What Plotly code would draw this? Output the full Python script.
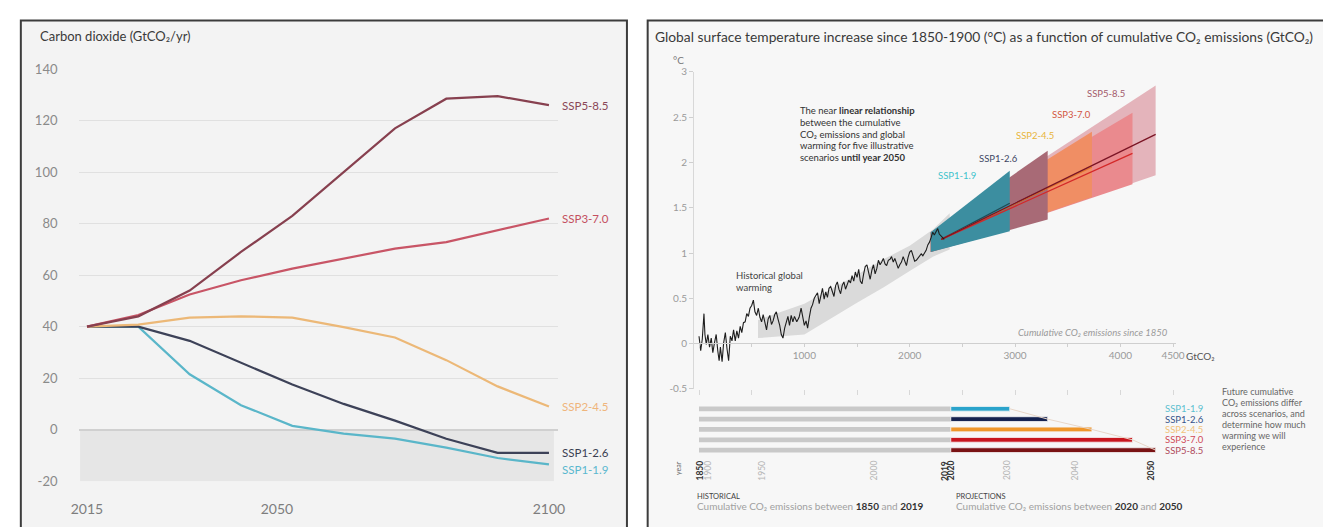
import plotly.graph_objects as go

W, H = 1323, 527

# ---------------- left panel: CO2 emission pathways ----------------
years = [2015, 2020, 2030, 2040, 2050, 2060, 2070, 2080, 2090, 2100]
scenarios = ["SSP1-1.9", "SSP1-2.6", "SSP2-4.5", "SSP3-7.0", "SSP5-8.5"]
co2_ssp119 = [40, 40, 21.5, 9.5, 1.5, -1.5, -3.5, -7, -11, -13.5]
co2_ssp126 = [40, 40, 34.5, 26, 17.5, 10, 3.5, -3.5, -9, -9]
co2_ssp245 = [40, 40.8, 43.5, 44, 43.5, 39.8, 35.8, 27, 16.8, 9]
co2_ssp370 = [40, 44.5, 52.5, 58, 62.5, 66.5, 70.3, 72.8, 77.5, 82]
co2_ssp585 = [40, 44, 54, 69, 83, 100, 117, 128.5, 129.5, 126]
co2_ticks = [-20, 0, 20, 40, 60, 80, 100, 120, 140]
year_ticks = ["2015", "2050", "2100"]

# ---------------- right panel: warming vs cumulative CO2 ----------------
hist_cum = [0, 16, 31, 47, 56, 69, 84, 100, 116, 131, 147, 163, 178, 191, 203, 219, 234, 250, 266, 281,
            297, 313, 328, 344, 359, 375, 391, 406, 422, 438, 453, 469, 484, 500, 516, 531, 547, 563, 578, 594,
            609, 625, 641, 656, 672, 688, 703, 719, 734, 750, 766, 781, 797, 813, 828, 844, 859, 875, 891, 906,
            928, 950, 969, 984, 1000, 1016, 1031, 1047, 1063, 1078, 1094, 1109, 1125, 1141, 1156, 1172, 1188,
            1203, 1219, 1234, 1250, 1266, 1281, 1297, 1313, 1328, 1344, 1359, 1375, 1391, 1406, 1422, 1438,
            1453, 1469, 1484, 1500, 1516, 1531, 1547, 1563, 1578, 1594, 1609, 1625, 1641, 1656, 1672, 1688,
            1703, 1719, 1734, 1750, 1766, 1781, 1797, 1813, 1828, 1844, 1859, 1875, 1891, 1906, 1922, 1938,
            1953, 1969, 1984, 2000, 2016, 2031, 2047, 2063, 2078, 2094, 2109, 2125, 2141, 2156, 2172, 2188,
            2203, 2219, 2234, 2250, 2266, 2281, 2297, 2313, 2328]
hist_temp = [0.08, -0.08, 0.05, 0.33, 0.10, -0.01, 0.10, -0.04, 0.06, -0.10, 0.01, 0.10, -0.08, -0.19, -0.04,
             -0.20, 0.01, 0.12, -0.06, -0.19, 0.08, 0.03, 0.15, 0.03, 0.14, 0.06, 0.19, 0.12, 0.23, 0.24,
             0.33, 0.30, 0.39, 0.42, 0.48, 0.35, 0.31, 0.39, 0.29, 0.24, 0.32, 0.21, 0.15, 0.27, 0.31, 0.21,
             0.25, 0.32, 0.35, 0.27, 0.20, 0.10, 0.06, 0.17, 0.24, 0.30, 0.20, 0.31, 0.24, 0.30, 0.24, 0.29,
             0.39, 0.28, 0.20, 0.25, 0.17, 0.29, 0.39, 0.43, 0.50, 0.53, 0.56, 0.44, 0.53, 0.61, 0.49, 0.57,
             0.51, 0.61, 0.63, 0.56, 0.52, 0.64, 0.68, 0.60, 0.55, 0.64, 0.68, 0.60, 0.64, 0.70, 0.67, 0.75,
             0.69, 0.79, 0.73, 0.82, 0.69, 0.66, 0.77, 0.85, 0.87, 0.77, 0.71, 0.81, 0.87, 0.77, 0.83, 0.92,
             0.87, 0.90, 0.94, 0.88, 0.86, 0.92, 0.93, 0.96, 0.90, 0.94, 0.89, 0.83, 0.87, 0.90, 0.96, 0.92,
             0.86, 0.95, 1.01, 1.03, 0.96, 0.91, 0.92, 0.94, 0.96, 0.99, 0.97, 1.01, 1.03, 1.09, 1.12, 1.17,
             1.23, 1.20, 1.24, 1.27, 1.21, 1.19, 1.17, 1.15]
band_cum = [560, 1000, 1500, 1750, 2000, 2220, 2380]
band_low = [0.06, 0.10, 0.45, 0.62, 0.80, 0.96, 1.04]
band_high = [0.26, 0.44, 0.76, 0.93, 1.08, 1.26, 1.44]

hist_total = 2390                               # GtCO2, 1850-2019
proj_2020_2050 = [560, 920, 1340, 1725, 1945]   # GtCO2, 2020-2050
cone_start_cum = 2200
cone_start_low, cone_start_high = 1.01, 1.23
cone_low = [1.24, 1.37, 1.62, 1.76, 1.86]
cone_high = [1.91, 2.13, 2.34, 2.55, 2.85]
cone_mid = [1.55, 1.72, 1.95, 2.10, 2.31]
mid_start_cum, mid_start_temp = 2300, 1.15

temp_ticks = [-0.5, 0, 0.5, 1, 1.5, 2, 2.5, 3]
temp_ticklabels = ["-0.5", "0", "0.5", "1", "1.5", "2", "2.5", "3"]
cum_ticks = [1000, 2000, 3000, 4000, 4500]
cum_ticklabels = ["1000", "2000", "3000", "4000", "4500"]
bar_years = ["1850", "1900", "1950", "2000", "2019", "2020", "2030", "2040", "2050"]
bar_year_cum = [0, 85, 590, 1660, 2330, 2390, 2920, 3560, 4290]
bar_year_bold = [True, False, False, False, True, True, False, False, True]

# ---------------- styling ----------------
FONT = "Lato, Noto Sans, sans-serif"
line_col = {"SSP1-1.9": "#5ab6c9", "SSP1-2.6": "#3d4258", "SSP2-4.5": "#ecb877",
            "SSP3-7.0": "#c85566", "SSP5-8.5": "#87404f"}
label_col = {"SSP1-1.9": "#5ab8cf", "SSP1-2.6": "#3b3f52", "SSP2-4.5": "#efb57c",
             "SSP3-7.0": "#c4505f", "SSP5-8.5": "#8a4656"}
cone_fill = {"SSP1-1.9": "#3c8ea0", "SSP1-2.6": "#a86a76", "SSP2-4.5": "#f08e64",
             "SSP3-7.0": "#ea8a8e", "SSP5-8.5": "#e4b4bb"}
cone_line = {"SSP1-1.9": "#1f4a55", "SSP1-2.6": "#2a2f4d", "SSP2-4.5": "#e2742a",
             "SSP3-7.0": "#d42828", "SSP5-8.5": "#7a1424"}
cone_label_col = {"SSP1-1.9": "#3ec3cc", "SSP1-2.6": "#3d4663", "SSP2-4.5": "#e8b53a",
                  "SSP3-7.0": "#d2553e", "SSP5-8.5": "#a35a6a"}
bar_col = {"SSP1-1.9": "#2aa3cb", "SSP1-2.6": "#14214f", "SSP2-4.5": "#ef962a",
           "SSP3-7.0": "#c8161e", "SSP5-8.5": "#7a1314"}
bar_label_col = {"SSP1-1.9": "#5bc0d0", "SSP1-2.6": "#35538a", "SSP2-4.5": "#f2c27a",
                 "SSP3-7.0": "#d04a58", "SSP5-8.5": "#b04a5c"}


def fx(p):
    return p / W


def fy(p):
    return 1 - p / H


fig = go.Figure()

# left panel lines
co2_series = [co2_ssp119, co2_ssp126, co2_ssp245, co2_ssp370, co2_ssp585]
x_pos = list(range(len(years)))
for name, vals in zip(scenarios, co2_series):
    fig.add_trace(go.Scatter(x=x_pos, y=vals, mode="lines", name=name,
                             line=dict(color=line_col[name], width=2.2),
                             xaxis="x", yaxis="y", hoverinfo="skip"))

# right panel: historical uncertainty band
fig.add_trace(go.Scatter(x=band_cum + band_cum[::-1], y=band_low + band_high[::-1],
                         fill="toself", fillcolor="#dadada", line=dict(width=0),
                         mode="lines", xaxis="x2", yaxis="y2", hoverinfo="skip"))

# projection cones, widest drawn first
cone_end = [hist_total + p for p in proj_2020_2050]
for i in reversed(range(len(scenarios))):
    name = scenarios[i]
    fig.add_trace(go.Scatter(
        x=[cone_start_cum, cone_end[i], cone_end[i], cone_start_cum, cone_start_cum],
        y=[cone_start_low, cone_low[i], cone_high[i], cone_start_high, cone_start_low],
        fill="toself", fillcolor=cone_fill[name], line=dict(width=0), mode="lines",
        xaxis="x2", yaxis="y2", hoverinfo="skip"))

# central estimates
for i, name in enumerate(scenarios):
    fig.add_trace(go.Scatter(x=[mid_start_cum, cone_end[i]], y=[mid_start_temp, cone_mid[i]],
                             mode="lines", line=dict(color=cone_line[name], width=1.3),
                             xaxis="x2", yaxis="y2", hoverinfo="skip"))

# observed warming
fig.add_trace(go.Scatter(x=hist_cum, y=hist_temp, mode="lines",
                         line=dict(color="#1e1e1e", width=1.1),
                         xaxis="x2", yaxis="y2", hoverinfo="skip"))

# carrier trace for the zero axis with labels
fig.add_trace(go.Scatter(x=[0], y=[0], mode="markers", marker=dict(opacity=0),
                         xaxis="x3", yaxis="y2", hoverinfo="skip"))

# cumulative emission bars
rows = list(range(len(scenarios)))
fig.add_trace(go.Bar(y=rows, x=[hist_total] * len(rows), base=[0] * len(rows), orientation="h",
                     width=0.46, marker=dict(color="#c9c9c9", line=dict(width=0)),
                     xaxis="x4", yaxis="y4", hoverinfo="skip"))
fig.add_trace(go.Bar(y=rows, x=proj_2020_2050, base=[hist_total] * len(rows), orientation="h",
                     width=0.46, marker=dict(color=[bar_col[s] for s in scenarios],
                                             line=dict(color="#f6f6f6", width=0.8)),
                     xaxis="x4", yaxis="y4", hoverinfo="skip"))
fig.add_trace(go.Scatter(x=cone_end, y=rows, mode="lines", line=dict(color="#e8d6c8", width=1),
                         xaxis="x4", yaxis="y4", hoverinfo="skip"))

# ---------------- shapes ----------------
shapes = [
    dict(type="rect", xref="paper", yref="paper", x0=fx(13), x1=fx(627), y0=fy(13), y1=fy(540),
         fillcolor="#f3f3f3", line=dict(color="#3c3c3c", width=2), layer="below"),
    dict(type="rect", xref="paper", yref="paper", x0=fx(648), x1=fx(1340), y0=fy(13), y1=fy(540),
         fillcolor="#f7f7f7", line=dict(color="#3c3c3c", width=2), layer="below"),
    dict(type="rect", xref="paper", yref="y", x0=fx(73), x1=fx(553), y0=-20, y1=0,
         fillcolor="#e6e6e6", line=dict(width=0), layer="below"),
]

# ---------------- annotations ----------------
ann = []
ann.append(dict(text="Carbon dioxide (GtCO₂/yr)", xref="paper", yref="paper",
                x=fx(30), y=fy(29), xanchor="left", yanchor="middle", showarrow=False,
                font=dict(size=13, color="#3a3a3a")))
label_shift = {"SSP1-1.9": -5, "SSP1-2.6": 0, "SSP2-4.5": 0, "SSP3-7.0": 0, "SSP5-8.5": 0}
for name, vals in zip(scenarios, co2_series):
    ann.append(dict(text=name, xref="paper", yref="y", x=fx(559), y=vals[-1], xanchor="left",
                    yanchor="middle", yshift=label_shift[name], showarrow=False,
                    font=dict(size=11.5, color=label_col[name])))

ann.append(dict(text="Global surface temperature increase since 1850-1900 (°C) as a function of "
                     "cumulative CO₂ emissions (GtCO₂)",
                xref="paper", yref="paper", x=fx(653), y=fy(29), xanchor="left", yanchor="middle",
                showarrow=False, font=dict(size=13.8, color="#3a3a3a")))
ann.append(dict(text="°C", xref="paper", yref="paper", x=fx(687), y=fy(54), xanchor="right",
                yanchor="middle", showarrow=False, font=dict(size=10, color="#777")))
ann.append(dict(text="GtCO₂", xref="paper", yref="paper", x=fx(1191), y=fy(359),
                xanchor="left", yanchor="middle", showarrow=False, font=dict(size=10, color="#555")))
ann.append(dict(text="Cumulative CO₂ emissions since 1850", xref="paper", yref="paper",
                x=fx(1177), y=fy(335), xanchor="right", yanchor="middle", showarrow=False,
                font=dict(size=9.5, color="#9a9a9a", style="italic")))

note_lines = ["The near <b>linear relationship</b>", "between the cumulative",
              "CO₂ emissions and global", "warming for five illustrative",
              "scenarios <b>until year 2050</b>"]
for k, t in enumerate(note_lines):
    ann.append(dict(text=t, xref="paper", yref="paper", x=fx(800), y=fy(106 + 12 * k),
                    xanchor="left", yanchor="middle", showarrow=False,
                    font=dict(size=9.5, color="#333")))

for k, t in enumerate(["Historical global", "warming"]):
    ann.append(dict(text=t, xref="paper", yref="paper", x=fx(735), y=fy(276 + 12 * k),
                    xanchor="left", yanchor="middle", showarrow=False,
                    font=dict(size=9.5, color="#444")))

cone_label_pos = {"SSP1-1.9": (961, 173), "SSP1-2.6": (1003, 155), "SSP2-4.5": (1040, 131),
                  "SSP3-7.0": (1077, 110), "SSP5-8.5": (1112, 88)}
for name in scenarios:
    px, py = cone_label_pos[name]
    ann.append(dict(text=name, xref="paper", yref="paper", x=fx(px), y=fy(py), xanchor="center",
                    yanchor="middle", showarrow=False, font=dict(size=9.5, color=cone_label_col[name])))

# bar labels
for i, name in enumerate(scenarios):
    ann.append(dict(text=name, xref="paper", yref="y4", x=fx(1170), y=i, xanchor="left",
                    yanchor="middle", showarrow=False, font=dict(size=9.5, color=bar_label_col[name])))

for k, t in enumerate(["Future cumulative", "CO₂ emissions differ", "across scenarios, and",
                       "determine how much", "warming we will", "experience"]):
    ann.append(dict(text=t, xref="paper", yref="paper", x=fx(1228), y=fy(395 + 11.5 * k),
                    xanchor="left", yanchor="middle", showarrow=False,
                    font=dict(size=9, color="#666")))

for yr, c, bold in zip(bar_years, bar_year_cum, bar_year_bold):
    ann.append(dict(text=yr, xref="x4", yref="paper", x=c, y=fy(477),
                    xanchor="center", yanchor="middle", textangle=-90, showarrow=False,
                    font=dict(size=8.5, color="#333" if bold else "#b5b5b5",
                              weight="bold" if bold else "normal")))
ann.append(dict(text="year", xref="paper", yref="paper", x=fx(678), y=fy(474), textangle=-90,
                xanchor="center", yanchor="middle", showarrow=False, font=dict(size=7, color="#666")))

ann.append(dict(text="HISTORICAL", xref="paper", yref="paper", x=fx(696), y=fy(504), xanchor="left",
                yanchor="middle", showarrow=False, font=dict(size=7.5, color="#444")))
ann.append(dict(text="Cumulative CO₂ emissions between "
                     "<span style='color:#333'><b>1850</b></span> and <span style='color:#333'><b>2019</b></span>",
                xref="paper", yref="paper", x=fx(696), y=fy(514), xanchor="left", yanchor="middle",
                showarrow=False, font=dict(size=10, color="#a0a0a0")))
ann.append(dict(text="PROJECTIONS", xref="paper", yref="paper", x=fx(958), y=fy(504), xanchor="left",
                yanchor="middle", showarrow=False, font=dict(size=7.5, color="#444")))
ann.append(dict(text="Cumulative CO₂ emissions between "
                     "<span style='color:#333'><b>2020</b></span> and <span style='color:#333'><b>2050</b></span>",
                xref="paper", yref="paper", x=fx(958), y=fy(514), xanchor="left", yanchor="middle",
                showarrow=False, font=dict(size=10, color="#a0a0a0")))

# ---------------- layout ----------------
cum_range = [-47, 4530]
x2_domain = [fx(695), fx(1183.4)]
fig.update_layout(
    width=W, height=H, margin=dict(l=0, r=0, t=0, b=0), showlegend=False,
    paper_bgcolor="white", plot_bgcolor="rgba(0,0,0,0)", barmode="overlay",
    font=dict(family=FONT),
    xaxis=dict(domain=[fx(72), fx(557)], range=[-0.154, 9.173], anchor="y",
               tickvals=[0, 3.7, 9], ticktext=year_ticks, ticks="outside", ticklen=15,
               tickcolor="rgba(0,0,0,0)", tickfont=dict(size=14, color="#7d7d7d"),
               showgrid=False, zeroline=False, showline=False),
    yaxis=dict(domain=[fy(488), fy(63)], range=[-20, 140], anchor="x",
               tickvals=co2_ticks, ticktext=[str(v) for v in co2_ticks],
               ticks="outside", ticklen=18, tickcolor="rgba(0,0,0,0)",
               tickfont=dict(size=13, color="#8a8a8a"), showgrid=True, gridcolor="#e0e0e0",
               gridwidth=1, zeroline=True, zerolinecolor="#d0d0d0", zerolinewidth=1.5,
               showline=False),
    xaxis2=dict(domain=x2_domain, range=cum_range, anchor="y2", tick0=0, dtick=500,
                showticklabels=False, ticks="outside", ticklen=5, tickcolor="#d8d8d8",
                showgrid=False, zeroline=False, showline=False),
    yaxis2=dict(domain=[fy(392.7), fy(66)], range=[-0.5, 3], anchor="x2",
                tickvals=temp_ticks, ticktext=temp_ticklabels,
                ticks="outside", ticklen=4, tickcolor="#cfcfcf",
                tickfont=dict(size=10, color="#9a9a9a"), showgrid=False, zeroline=False,
                showline=True, linecolor="#d8d8d8", linewidth=1),
    xaxis3=dict(overlaying="x2", range=cum_range, anchor="free", position=fy(346), side="bottom",
                tickvals=cum_ticks, ticktext=cum_ticklabels, ticks="outside", ticklen=3,
                tickcolor="#cfcfcf", tickfont=dict(size=10, color="#9a9a9a"),
                minor=dict(tick0=0, dtick=500, ticks="outside", ticklen=3, tickcolor="#cfcfcf"),
                showline=True, linecolor="#cfcfcf", linewidth=1, showgrid=False, zeroline=False),
    xaxis4=dict(domain=x2_domain, range=cum_range, anchor="y4", visible=False),
    yaxis4=dict(domain=[fy(464), fy(405)], range=[4.75, -0.78], anchor="x4", visible=False),
    shapes=shapes, annotations=ann,
)

fig.write_html("out.html")
